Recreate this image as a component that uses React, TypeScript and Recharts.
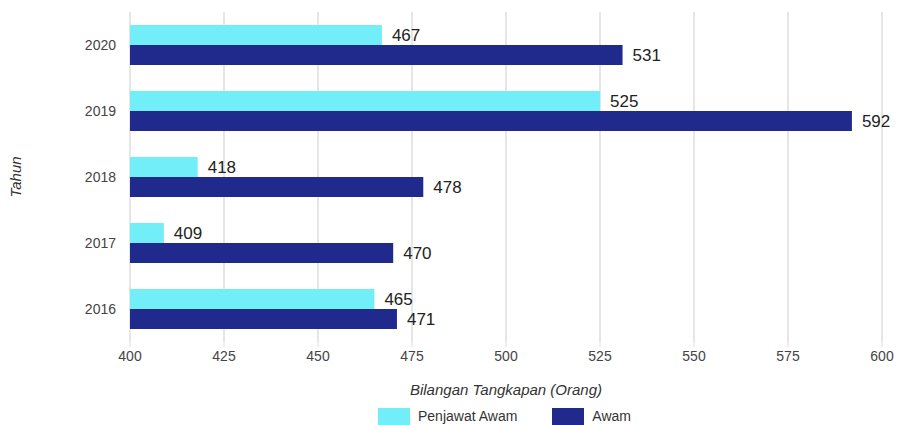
import React from 'react';
import { BarChart, Bar, XAxis, YAxis, CartesianGrid, LabelList } from 'recharts';

const years = ['2020', '2019', '2018', '2017', '2016'];
const penjawatAwam = [467, 525, 418, 409, 465];
const awam = [531, 592, 478, 470, 471];
const xTicks = [400, 425, 450, 475, 500, 525, 550, 575, 600];
const seriesNames = ['Penjawat Awam', 'Awam'];
const seriesColors = ['#72EEF8', '#1F2A8C'];

const data = years.map((y, i) => ({ year: y, p: penjawatAwam[i], a: awam[i] }));

const FONT = '"Liberation Sans", Arial, sans-serif';

export default function App() {
  return (
    <div style={{ position: 'absolute', left: 0, top: 0, width: 899, height: 425, background: '#fff', fontFamily: FONT, overflow: 'hidden' }}>
      <BarChart
        width={899}
        height={425}
        data={data}
        layout="vertical"
        margin={{ top: 12, right: 17, left: 0, bottom: 28 }}
        barGap={0}
        barSize={20}
      >
        <CartesianGrid horizontal={false} stroke="#dedede" strokeWidth={1.5} />
        <XAxis
          type="number"
          domain={[400, 600]}
          ticks={xTicks}
          axisLine={false}
          tickLine={{ stroke: '#dedede' }}
          tickSize={5}
          tickMargin={4}
          height={55}
          tick={{ fontSize: 14, fill: '#444', fontFamily: FONT }}
          label={{ value: 'Bilangan Tangkapan (Orang)', position: 'insideBottom', offset: 2, style: { fontSize: 15, fill: '#333', fontStyle: 'italic', fontFamily: FONT } }}
        />
        <YAxis
          type="category"
          dataKey="year"
          width={130}
          axisLine={false}
          tickLine={false}
          tickSize={0}
          tickMargin={14}
          tick={{ fontSize: 14, fill: '#444', fontFamily: FONT }}
          label={{ value: 'Tahun', angle: -90, position: 'insideLeft', offset: 16, style: { fontSize: 15, fill: '#333', fontStyle: 'italic', textAnchor: 'middle', fontFamily: FONT } }}
        />
        <Bar dataKey="p" name={seriesNames[0]} fill={seriesColors[0]} isAnimationActive={false}>
          <LabelList dataKey="p" position="right" offset={10} style={{ fontSize: 17, fill: '#222', fontFamily: FONT }} />
        </Bar>
        <Bar dataKey="a" name={seriesNames[1]} fill={seriesColors[1]} isAnimationActive={false}>
          <LabelList dataKey="a" position="right" offset={10} style={{ fontSize: 17, fill: '#222', fontFamily: FONT }} />
        </Bar>
      </BarChart>
      <div style={{ position: 'absolute', left: 378, top: 408, display: 'flex', alignItems: 'flex-start', fontSize: 14, color: '#333', whiteSpace: 'nowrap', lineHeight: '16px' }}>
        {seriesNames.map((n, i) => (
          <div key={n} style={{ display: 'flex', alignItems: 'flex-start', marginRight: 35 }}>
            <div style={{ width: 32, height: 17, background: seriesColors[i], marginRight: 8 }} />
            <span>{n}</span>
          </div>
        ))}
      </div>
    </div>
  );
}
